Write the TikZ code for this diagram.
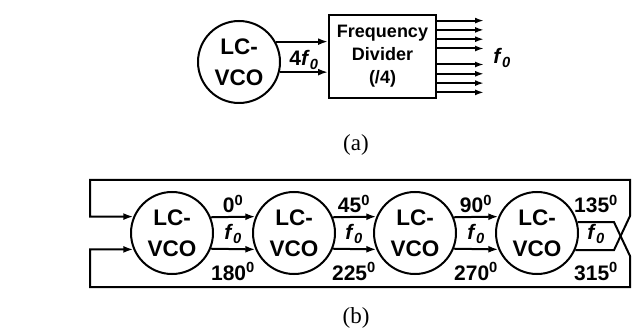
\documentclass[tikz,border=0pt]{standalone}
\usepackage{fontspec}
\setmainfont{Liberation Serif}
\newfontfamily\arialf{Liberation Sans}
\usetikzlibrary{arrows.meta}
\begin{document}
\begin{tikzpicture}[x=1pt,y=-1pt,
  wire/.style={line width=2pt},
  arr/.style={wire,-{Latex[length=10pt,width=7pt]}},
  sarr/.style={wire,-{Latex[length=9pt,width=6pt]}},
  vco/.style={circle,draw,line width=2pt,minimum size=82pt,inner sep=0pt,align=center,
    font=\arialf\bfseries\fontsize{22.5}{31}\selectfont},
  lab/.style={font=\arialf\bfseries\fontsize{21}{22}\selectfont,inner sep=0pt},
  figcap/.style={font=\fontsize{23}{26}\selectfont,inner sep=0pt}]
\useasboundingbox (0,0) rectangle (632,331);
% ---------- (a) ----------
\node[vco] (a0) at (239,62) {LC-\\VCO};
\node[draw,wire,minimum width=107pt,minimum height=83pt,inner sep=0pt,align=center,
  font=\arialf\bfseries\fontsize{18}{23}\selectfont] (div) at (382.5,56.5) {Frequency\\Divider\\(/4)};
\draw[arr] (a0.29.2) -- (a0.29.2 -| div.west);
\draw[arr] (a0.-14.1) -- (a0.-14.1 -| div.west);
\node[lab] (f4) at (304,60) {4\textit{f}\textsubscript{\textit{0}}};
\foreach \yy [count=\i] in {20.6,29.9,39.2,48.5,64.5,73.8,83.1,92.4} {
  \coordinate (o\i) at (484,\yy);
  \draw[sarr] (div.east |- o\i) -- (o\i);
}
\node[lab] (fo) at (502,58) {\textit{f}\textsubscript{\textit{0}}};
\node[figcap] (capa) at (356,145) {(a)};
% ---------- (b) ----------
\foreach \n/\x in {1/172,2/294,3/415,4/537}
  \node[vco] (v\n) at (\x,233) {LC-\\VCO};
\draw[arr] (v1.22.2) -- (v2.157.8);
\draw[arr] (v1.-22.2) -- (v2.-157.8);
\draw[arr] (v2.22.2) -- (v3.157.8);
\draw[arr] (v2.-22.2) -- (v3.-157.8);
\draw[arr] (v3.22.2) -- (v4.157.8);
\draw[arr] (v3.-22.2) -- (v4.-157.8);
% labels
\foreach \x/\t/\b in {233/0/180,354/45/225,476/90/270,596/135/315} {
  \node[lab,anchor=base] at (\x,213) {\t\textsuperscript{0}};
  \node[lab,anchor=base] at (\x,280) {\b\textsuperscript{0}};
  \node[lab] at (\x,234) {\textit{f}\textsubscript{\textit{0}}};
}
% feedback frame
\coordinate (xr) at (614,0);
\coordinate (xl) at (90,0);
\coordinate (ua) at (630,256);
\coordinate (ub) at (630,287);
\coordinate (uc) at (90,287);
\coordinate (la) at (630,216);
\coordinate (lb) at (630,180);
\coordinate (lc) at (90,180);
\draw[arr] (v4.15.6) -- (v4.15.6 -| xr) -- (ua) -- (ub) -- (uc) -- (v1.-157.8 -| xl) -- (v1.-157.8);
\draw[arr] (v4.-24.5) -- (v4.-24.5 -| xr) -- (la) -- (lb) -- (lc) -- (v1.157.8 -| xl) -- (v1.157.8);
\node[figcap] (capb) at (356,318) {(b)};
\end{tikzpicture}
\end{document}
